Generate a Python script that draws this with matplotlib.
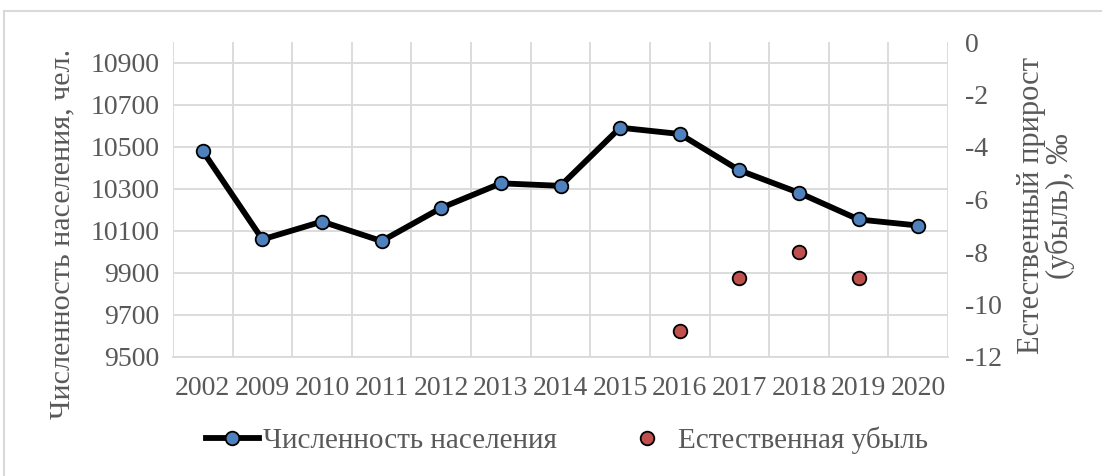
import numpy as np
import matplotlib.pyplot as plt
from matplotlib.lines import Line2D

years = ['2002', '2009', '2010', '2011', '2012', '2013', '2014',
         '2015', '2016', '2017', '2018', '2019', '2020']
population = [10480, 10060, 10145, 10052, 10210, 10327, 10315,
              10592, 10562, 10389, 10282, 10155, 10126]
decline_years = ['2016', '2017', '2018', '2019']
decline = [-11, -9, -8, -9]

plt.rcParams['font.family'] = ['Liberation Serif', 'DejaVu Serif']
plt.rcParams['axes.unicode_minus'] = False
grey = '#595959'
grid_c = '#D9D9D9'
W, H = 1102, 476

fig = plt.figure(figsize=(W / 100, H / 100), dpi=100)
ax = fig.add_axes([173/W, 1-357/H, (948-173)/W, (357-42)/H])
ax2 = ax.twinx()

x = np.arange(len(years))
ax.plot(x, population, color='black', lw=4.2, marker='o', ms=9.8,
        mfc='#4F81BD', mec='black', mew=1.3, zorder=5, solid_joinstyle='round')

xd = [years.index(y) for y in decline_years]
ax2.plot(xd, decline, ls='none', marker='o', ms=9.8, mfc='#C0504D',
         mec='black', mew=1.3)

ax.set_xlim(-0.5, len(years) - 0.5)
ax.set_ylim(9500, 11000)
ax.set_yticks(np.arange(9500, 11000, 200))
ax2.set_ylim(-12, 0)
ax2.set_yticks(np.arange(-12, 1, 2))

# category gridlines sit between the labels
ax.set_xticks(x)
ax.set_xticklabels(years)
ax.set_xticks(np.arange(-0.5, len(years), 1), minor=True)
ax.grid(False)
ax.grid(True, which='minor', axis='x', color=grid_c, lw=1.3)
ax.grid(True, which='major', axis='y', color=grid_c, lw=1.3)
ax.set_axisbelow(True)

for a in (ax, ax2):
    for s in a.spines.values():
        s.set_visible(False)
    a.tick_params(which='both', length=0, labelsize=20, labelcolor=grey)
ax.spines['bottom'].set_visible(True)
ax.spines['bottom'].set_color(grid_c)
ax.spines['bottom'].set_linewidth(1.3)
ax.tick_params(axis='x', pad=14)
ax.tick_params(axis='y', pad=10)
ax2.tick_params(axis='y', pad=12)

fig.text(62/W, 1-234/H, 'Численность населения, чел.', fontsize=21.7,
         color=grey, rotation=90, ha='center', va='center')
fig.text(1046/W, 1-206/H, 'Естественный прирост\n(убыль), ‰', fontsize=22,
         color=grey, rotation=90, ha='center', va='center', linespacing=0.92,
         multialignment='center')

handles = [
    Line2D([], [], color='black', lw=4.2, marker='o', ms=9.8,
           mfc='#4F81BD', mec='black', mew=1.3),
    Line2D([], [], ls='none', marker='o', ms=9.8, mfc='#C0504D',
           mec='black', mew=1.3),
]
leg = fig.legend(handles, ['Численность населения', 'Естественная убыль'],
                 loc='center', bbox_to_anchor=(567/W, 1-440/H), ncol=2,
                 frameon=False, fontsize=21, handlelength=1.8,
                 handletextpad=0.15, columnspacing=2.2)
for t in leg.get_texts():
    t.set_color(grey)

# outer chart border
fig.add_artist(Line2D([4/W, 4/W], [0, 1-11/H], color=grid_c, lw=1.5,
                      transform=fig.transFigure))
fig.add_artist(Line2D([4/W, 1], [1-11/H, 1-11/H], color=grid_c, lw=1.5,
                      transform=fig.transFigure))

fig.savefig('out.png', dpi=100)
